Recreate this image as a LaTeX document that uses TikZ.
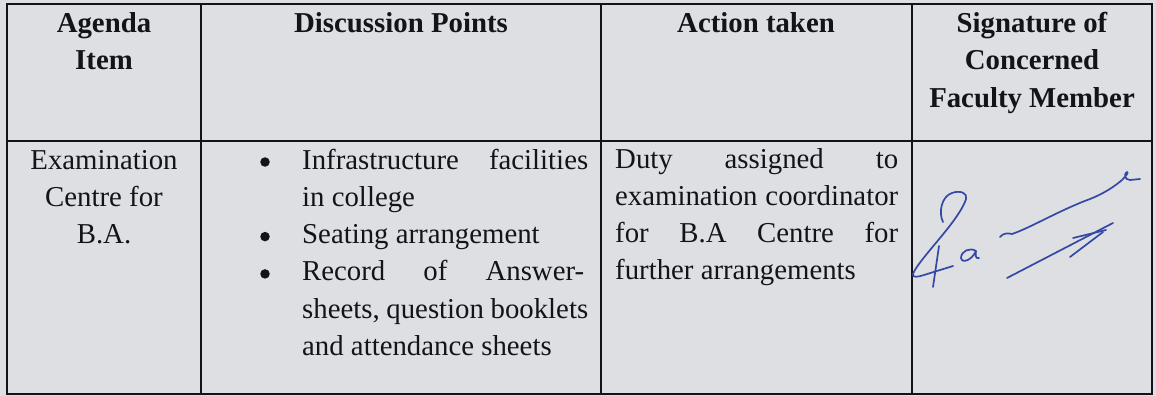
\documentclass[tikz,border=0pt]{standalone}
\usepackage{fontspec}
\setmainfont{Liberation Serif}
\definecolor{paper}{RGB}{221,223,227}
\definecolor{ink}{RGB}{20,20,24}
\definecolor{pen}{RGB}{52,72,165}
\tikzset{
  rule/.style={draw=ink, line width=1.4pt},
  hd/.style={anchor=base, font=\fontsize{28.8}{37.5}\selectfont\bfseries, text=ink, inner sep=0pt},
  tx/.style={anchor=base west, font=\fontsize{28.8}{37.5}\selectfont, text=ink, inner sep=0pt},
  ctr/.style={tx, anchor=base},
  dot/.style={circle, fill=ink, inner sep=0pt, minimum size=9.5pt},
  sig/.style={draw=pen, line width=1.7pt, line cap=round, line join=round},
}
\begin{document}
\begin{tikzpicture}[x=1pt,y=-1pt]
\fill[paper] (0,0) rectangle (1156,396);
\useasboundingbox (0,0) rectangle (1156,396);
% table rules
\draw[rule] (7,4) rectangle (1152,394);
\draw[rule] (7,141) -- (1152,141);
\draw[rule] (201,4) -- (201,394);
\draw[rule] (601,4) -- (601,394);
\draw[rule] (912,4) -- (912,394);
% header
\node[hd] (h1a) at (104,33) {Agenda};
\node[hd] (h1b) at (104,70) {Item};
\node[hd] (h2) at (401,33) {Discussion Points};
\node[hd] (h3) at (756,33) {Action taken};
\node[hd] (h4a) at (1032,33) {Signature of};
\node[hd] (h4b) at (1032,70) {Concerned};
\node[hd] (h4c) at (1032,107) {Faculty Member};
% column 1
\node[ctr] (c1a) at (104,169) {Examination};
\node[ctr] (c1b) at (104,206.3) {Centre for};
\node[ctr] (c1c) at (104,243.6) {B.A.};
% column 2
\node[dot] (b1) at (265,162) {};
\node[dot] (b2) at (265,236.6) {};
\node[dot] (b3) at (265,273.9) {};
\node[tx] (c2a) at (302,169) {\hbox to 286pt{Infrastructure\hfill facilities}};
\node[tx] (c2b) at (302,206.3) {in college};
\node[tx] (c2c) at (302,243.6) {Seating arrangement};
\node[tx] (c2d) at (302,280.9) {\hbox to 282pt{Record\hfill of\hfill Answer-}};
\node[tx] (c2e) at (302,318.2) {\hbox to 286pt{sheets, question booklets}};
\node[tx] (c2f) at (302,355.5) {and attendance sheets};
% column 3
\node[tx] (c3a) at (615,168) {\hbox to 283pt{Duty\hfill assigned\hfill to}};
\node[tx] (c3b) at (615,205.3) {\hbox to 283pt{examination\hfill coordinator}};
\node[tx] (c3c) at (615,242.6) {\hbox to 283pt{for\hfill B.A\hfill Centre\hfill for}};
\node[tx] (c3d) at (615,279.9) {further arrangements};
% signature
\draw[sig] (943,222) .. controls (938,212) and (942,196) .. (952,193)
  .. controls (960,190) and (968,193) .. (966,199)
  .. controls (962,212) and (945,232) .. (935,244)
  .. controls (925,256) and (915,268) .. (913,274)
  .. controls (912,278) and (918,277) .. (924,275)
  -- (953,266);
\draw[sig] (939,246) -- (933,287);
\draw[sig] (976,251) .. controls (970,247) and (961,251) .. (961,258)
  .. controls (962,264) and (972,260) .. (976,251)
  .. controls (975,256) and (976,259) .. (979,258);
\draw[sig] (1000,237) .. controls (1003,233) and (1008,233) .. (1012,234)
  .. controls (1030,228) and (1060,210) .. (1090,199)
  .. controls (1105,193) and (1115,186) .. (1122,180)
  .. controls (1126,176) and (1129,172) .. (1127,172)
  .. controls (1124,173) and (1124,180) .. (1130,180)
  -- (1140,179);
\draw[sig] (1007,278) -- (1113,223);
\draw[sig] (1073,238) -- (1106,230);
\draw[sig] (1103,232) -- (1070,257);
\end{tikzpicture}
\end{document}
